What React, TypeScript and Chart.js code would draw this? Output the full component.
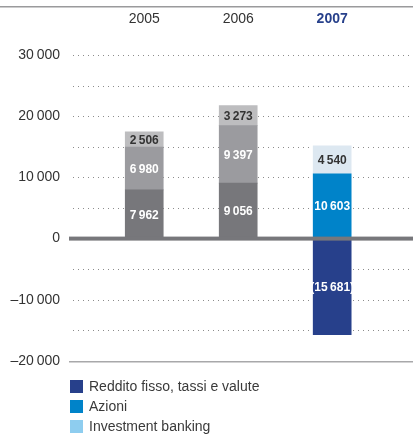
import React, { useEffect, useRef } from 'react';
import { Chart, registerables } from 'chart.js';

Chart.register(...registerables);

const categories = ['2005', '2006', '2007'];
const seriesNames = ['Reddito fisso, tassi e valute', 'Azioni', 'Investment banking'];
const redditoFisso = [7962, 9056, -15681];
const azioni = [6980, 9397, 10603];
const investmentBanking = [2506, 3273, 4540];
const yTickLabels = [-20000, -10000, 0, 10000, 20000, 30000];

const series = [redditoFisso, azioni, investmentBanking];
const barColors = [
  ['#77777b', '#77777b', '#27408b'],
  ['#9b9b9f', '#9b9b9f', '#0083c9'],
  ['#bdbdbf', '#bdbdbf', '#dde8f1'],
];
const legendColors = ['#27408b', '#0083c9', '#8ecdef'];
const valueLabelColors = [
  ['#ffffff', '#ffffff', '#ffffff'],
  ['#ffffff', '#ffffff', '#ffffff'],
  ['#333333', '#333333', '#333333'],
];

const FONT = "'Liberation Sans', Arial, sans-serif";

const group = (v: number) =>
  Math.abs(v).toString().replace(/\B(?=(\d{3})+(?!\d))/g, '\u2009');
const tickFmt = (v: number) => (v < 0 ? '\u2013' + group(v) : group(v));
const valueFmt = (v: number) => (v < 0 ? '(' + group(v) + ')' : group(v));

const decorPlugin = {
  id: 'decor',
  beforeDatasetsDraw(chart: any) {
    const { ctx, chartArea, scales } = chart;
    const y = scales.y;
    ctx.save();
    ctx.fillStyle = '#9a9a9c';
    ctx.fillRect(0, 6, chart.width, 1.5);
    ctx.fillStyle = '#8c8c8c';
    y.ticks.forEach((t: any) => {
      if (t.value === 0 || t.value === y.min) return;
      const py = Math.round(y.getPixelForValue(t.value));
      for (let x = chartArea.left + 3; x < chart.width; x += 5) {
        ctx.fillRect(x, py, 1, 1);
      }
    });
    ctx.restore();
  },
  afterDatasetsDraw(chart: any) {
    const { ctx, chartArea, scales } = chart;
    const y = scales.y;
    ctx.save();
    ctx.font = `bold 12px ${FONT}`;
    ctx.textAlign = 'center';
    ctx.textBaseline = 'middle';
    series.forEach((vals, s) => {
      const meta = chart.getDatasetMeta(s);
      meta.data.forEach((bar: any, i: number) => {
        const p = bar.getProps(['x', 'y', 'base'], true);
        ctx.fillStyle = valueLabelColors[s][i];
        ctx.fillText(valueFmt(vals[i]), p.x, (p.y + p.base) / 2 + 1);
      });
    });
    const z = y.getPixelForValue(0);
    ctx.fillStyle = '#77777b';
    ctx.fillRect(chartArea.left - 1, z - 2, chart.width - chartArea.left + 1, 4);
    const b = y.getPixelForValue(y.min);
    ctx.fillStyle = '#a8a8aa';
    ctx.fillRect(chartArea.left - 1, Math.round(b), chart.width - chartArea.left + 1, 1.5);
    ctx.restore();
  },
  afterDraw(chart: any) {
    const { ctx, chartArea } = chart;
    ctx.save();
    ctx.font = `14px ${FONT}`;
    ctx.textAlign = 'left';
    ctx.textBaseline = 'middle';
    seriesNames.forEach((name, i) => {
      const top = chartArea.bottom + 19 + i * 20;
      ctx.fillStyle = legendColors[i];
      ctx.fillRect(chartArea.left, top, 13, 13);
      ctx.fillStyle = '#3a3a3a';
      ctx.fillText(name, chartArea.left + 19, top + 7);
    });
    ctx.restore();
  },
};

export default function App() {
  const ref = useRef<HTMLCanvasElement>(null);
  useEffect(() => {
    document.body.style.margin = '0';
    const canvas = ref.current;
    if (!canvas) return;
    const chart = new Chart(canvas, {
      type: 'bar',
      data: {
        datasets: seriesNames.map((name, s) => ({
          label: name,
          data: series[s].map((v, i) => ({ x: i + 1, y: v })),
          backgroundColor: barColors[s],
          borderWidth: 0,
          barThickness: 38,
          stack: 'a',
        })),
      },
      options: {
        animation: false,
        responsive: false,
        maintainAspectRatio: false,
        layout: { padding: { left: 0, right: 0, top: 0, bottom: 75 } },
        plugins: {
          legend: { display: false },
          tooltip: { enabled: false },
        },
        scales: {
          x: {
            type: 'linear',
            position: 'top',
            offset: false,
            min: 0.21,
            max: 3.86,
            grid: { display: false, offset: false },
            border: { display: false },
            afterBuildTicks: (s: any) => {
              s.ticks = categories.map((_, i) => ({ value: i + 1 }));
            },
            afterFit: (s: any) => {
              s.height = 55;
            },
            ticks: {
              autoSkip: false,
              maxRotation: 0,
              padding: 19,
              callback: (v: any) => categories[Math.round(v) - 1] ?? '',
              color: (c: any) => (c.index === 2 ? '#27408b' : '#333333'),
              font: (c: any) => ({
                family: FONT,
                size: 14,
                weight: c.index === 2 ? 'bold' : 'normal',
              }),
            },
          },
          y: {
            min: -20000,
            max: 30000,
            stacked: true,
            grid: { display: false },
            border: { display: false },
            afterFit: (s: any) => {
              s.width = 70;
            },
            ticks: {
              stepSize: 5000,
              padding: 2,
              autoSkip: false,
              color: '#333333',
              font: { family: FONT, size: 14 },
              callback: (v: any) => (yTickLabels.includes(v) ? tickFmt(v) : ''),
            },
          },
        },
      },
      plugins: [decorPlugin],
    } as any);
    return () => chart.destroy();
  }, []);
  return <canvas ref={ref} width={413} height={436} style={{ display: 'block' }} />;
}
